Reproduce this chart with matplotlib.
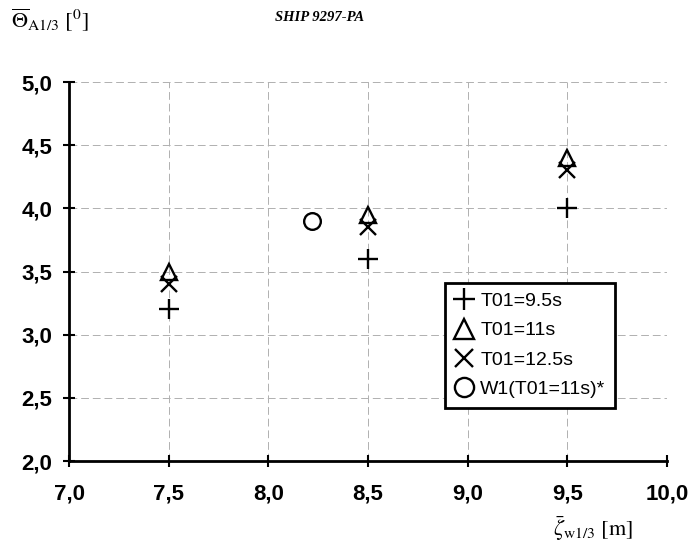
import matplotlib.pyplot as plt
from matplotlib.ticker import FuncFormatter

# wave height (x) and roll angle (y) per wave period
wave_height = [7.5, 8.5, 9.5]
roll_t95 = [3.2, 3.6, 4.0]
roll_t11 = [3.5, 3.95, 4.4]
roll_t125 = [3.4, 3.85, 4.3]
w1_x = [8.22]
w1_y = [3.9]

x_ticks = [7.0, 7.5, 8.0, 8.5, 9.0, 9.5, 10.0]
y_ticks = [2.0, 2.5, 3.0, 3.5, 4.0, 4.5, 5.0]

plt.rcParams['mathtext.fontset'] = 'stix'
plt.rcParams['font.family'] = ['Liberation Sans', 'DejaVu Sans']

fig = plt.figure(figsize=(6.91, 5.45), dpi=100)
ax = fig.add_axes([0.0999, 0.1541, 0.8654, 0.6954])

ms = 12
ax.plot(wave_height, roll_t95, linestyle='none', marker='+', ms=ms + 2, mew=1.7,
        color='black', label='T01=9.5s')
ax.plot(wave_height, roll_t11, linestyle='none', marker='^', ms=ms, mew=1.7,
        mfc='none', color='black', label='T01=11s')
ax.plot(wave_height, roll_t125, linestyle='none', marker='x', ms=ms - 1, mew=1.7,
        color='black', label='T01=12.5s')
ax.plot(w1_x, w1_y, linestyle='none', marker='o', ms=ms, mew=1.7,
        mfc='none', color='black', label='W1(T01=11s)*')

ax.set_xlim(7.0, 10.0)
ax.set_ylim(2.0, 5.0)
ax.set_xticks(x_ticks)
ax.set_yticks(y_ticks)
comma = FuncFormatter(lambda v, p: f'{v:.1f}'.replace('.', ','))
ax.xaxis.set_major_formatter(comma)
ax.yaxis.set_major_formatter(comma)
ax.tick_params(direction='inout', length=8, width=1.5, labelsize=16)
ax.tick_params(axis='y', pad=8)
ax.tick_params(axis='x', pad=12)
for lab in ax.get_xticklabels() + ax.get_yticklabels():
    lab.set_fontweight('bold')

ax.grid(True, linestyle=(0, (8, 4)), color='#b0b0b0', linewidth=0.7)
ax.spines['top'].set_visible(False)
ax.spines['right'].set_visible(False)
ax.spines['left'].set_linewidth(2)
ax.spines['bottom'].set_linewidth(2)

leg = ax.legend(loc='upper left', bbox_to_anchor=(0.629, 0.47), fontsize=14,
                frameon=True, fancybox=False, framealpha=1, edgecolor='black',
                handlelength=0.9, handletextpad=0.4, borderpad=0.5,
                labelspacing=0.6, borderaxespad=0, markerscale=1.15)
leg.get_frame().set_linewidth(2)

fig.text(0.462, 0.968, 'SHIP 9297-PA', ha='center', va='center', fontsize=10.5,
         fontweight='bold', fontstyle='italic', family='Liberation Serif')
fig.text(0.016, 0.962, r'$\overline{\Theta}_{\mathrm{A1/3}}\ [^{0}]$', ha='left',
         va='center', fontsize=16)
fig.text(0.80, 0.03, r'$\bar{\zeta}_{\mathrm{w1/3}}\ [\mathrm{m}]$', ha='left',
         va='center', fontsize=16)

fig.savefig('out.png', dpi=100)
